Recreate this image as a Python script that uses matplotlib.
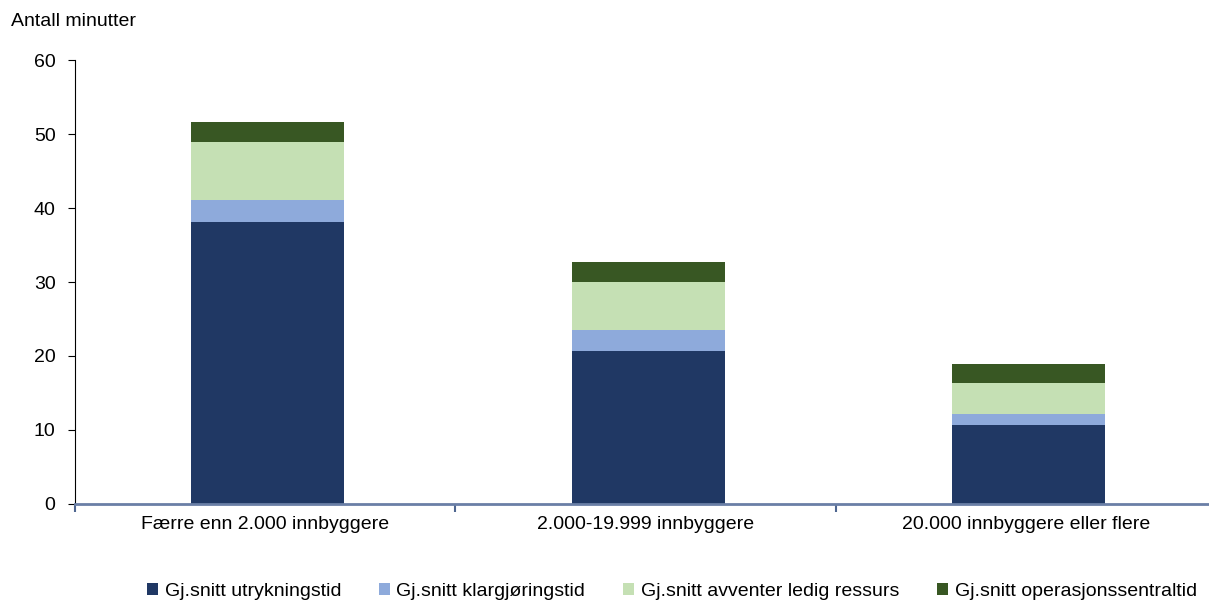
import numpy as np
import matplotlib.pyplot as plt

plt.rcParams['font.family'] = ['Liberation Sans', 'DejaVu Sans']

# Data
categories = ['Færre enn 2.000 innbyggere', '2.000-19.999 innbyggere', '20.000 innbyggere eller flere']
series_names = ['Gj.snitt utrykningstid', 'Gj.snitt klargjøringstid',
                'Gj.snitt avventer ledig ressurs', 'Gj.snitt operasjonssentraltid']
utrykning = [38.1, 20.7, 10.6]
klargjoring = [3.0, 2.75, 1.5]
avventer = [7.8, 6.5, 4.2]
operasjon = [2.8, 2.75, 2.55]
colors = ['#203864', '#8eaadb', '#c5e0b4', '#385723']

fig = plt.figure(figsize=(12.09, 6.02), dpi=100)
ax = fig.add_axes([0.062, 0.163, 0.944, 0.737])

x = np.arange(len(categories))
bottom = np.zeros(len(categories))
for name, vals, c in zip(series_names, [utrykning, klargjoring, avventer, operasjon], colors):
    ax.bar(x + 0.007, vals, width=0.402, bottom=bottom, color=c, label=name)
    bottom += np.array(vals)

ax.set_xlim(-0.5, 2.5)
ax.set_ylim(0, 60)
ax.set_yticks(range(0, 61, 10))
ax.set_xticks(x)
ax.set_xticklabels(categories, fontsize=14)
ax.set_xticks([-0.5, 0.5, 1.5, 2.5], minor=True)
ax.tick_params(axis='x', which='major', length=0, pad=9)
ax.tick_params(axis='x', which='minor', length=6, width=1.5, color='#4f6690')
ax.tick_params(axis='y', labelsize=14, length=5, pad=9)

for s in ['top', 'right']:
    ax.spines[s].set_visible(False)
ax.spines['bottom'].set_color('#6a7fa6')
ax.spines['bottom'].set_linewidth(2)

fig.text(0.009, 0.965, 'Antall minutter', fontsize=14, va='center')

ax.legend(loc='center', bbox_to_anchor=(0.523, -0.197), ncol=4, frameon=False,
          fontsize=14, handlelength=0.55, handleheight=0.55, handletextpad=0.35, columnspacing=1.95)

fig.savefig('out.png', dpi=100)
